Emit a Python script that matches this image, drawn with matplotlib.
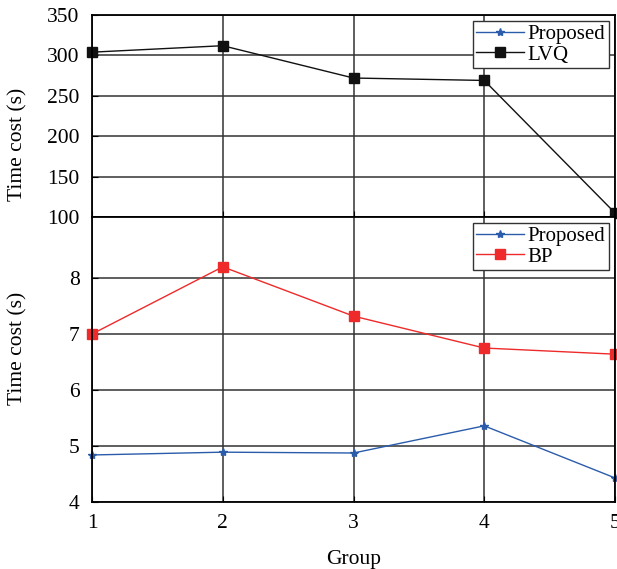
import matplotlib
matplotlib.use("Agg")
import matplotlib.pyplot as plt

groups = [1, 2, 3, 4, 5]
lvq = [304, 312, 272, 269, 105]
bp = [7.0, 8.2, 7.32, 6.75, 6.64]
proposed = [4.84, 4.89, 4.875, 5.36, 4.43]

plt.rcParams['font.family'] = ['Liberation Serif', 'DejaVu Serif']
plt.rcParams['font.size'] = 15.5

blue = '#2a5caa'
red = '#ee2a2a'

fig = plt.figure(figsize=(6.17, 5.69), dpi=100)
L, R = 92/617, 615/617
ax1 = fig.add_axes([L, 1-217/569, R-L, (217-15)/569])
ax2 = fig.add_axes([L, 1-502/569, R-L, (502-217)/569])

for ax in (ax1, ax2):
    ax.grid(True, color='#333333', linewidth=1.1)
    ax.set_axisbelow(True)
    ax.set_xlim(1, 5)
    ax.set_xticks(groups)
    ax.tick_params(direction='in', length=4, labelsize=15.5, pad=9)
    for s in ax.spines.values():
        s.set_linewidth(1.3)

legkw = dict(loc='upper right', fontsize=15, fancybox=False, framealpha=1,
             edgecolor='#333333', handlelength=2.3, borderpad=0.15, labelspacing=0.05,
             handletextpad=0.2, borderaxespad=0.3)

ax1.plot(groups, proposed, color=blue, marker='*', markersize=6, linewidth=1, label='Proposed')
ax1.plot(groups, lvq, color='#111111', marker='s', markersize=7.5, linewidth=1, label='LVQ', clip_on=False)
ax1.set_ylim(100, 350)
ax1.set_yticks([100, 150, 200, 250, 300, 350])
ax1.tick_params(labelbottom=False)
ax1.legend(**legkw)

ax2.plot(groups, proposed, color=blue, marker='*', markersize=6, linewidth=1, label='Proposed', clip_on=False)
ax2.plot(groups, bp, color=red, marker='s', markersize=7.5, linewidth=1, label='BP', clip_on=False)
ax2.set_ylim(4, 9.09)
ax2.set_yticks([4, 5, 6, 7, 8])
ax2.set_xlabel('Group', fontsize=15.5, labelpad=12)
ax2.legend(**legkw)

fig.text(18/617, 1-144/569, 'Time cost (s)', rotation=90, ha='center', va='center', fontsize=15.5)
fig.text(18/617, 1-348/569, 'Time cost (s)', rotation=90, ha='center', va='center', fontsize=15.5)

fig.savefig('out.png', dpi=100)
